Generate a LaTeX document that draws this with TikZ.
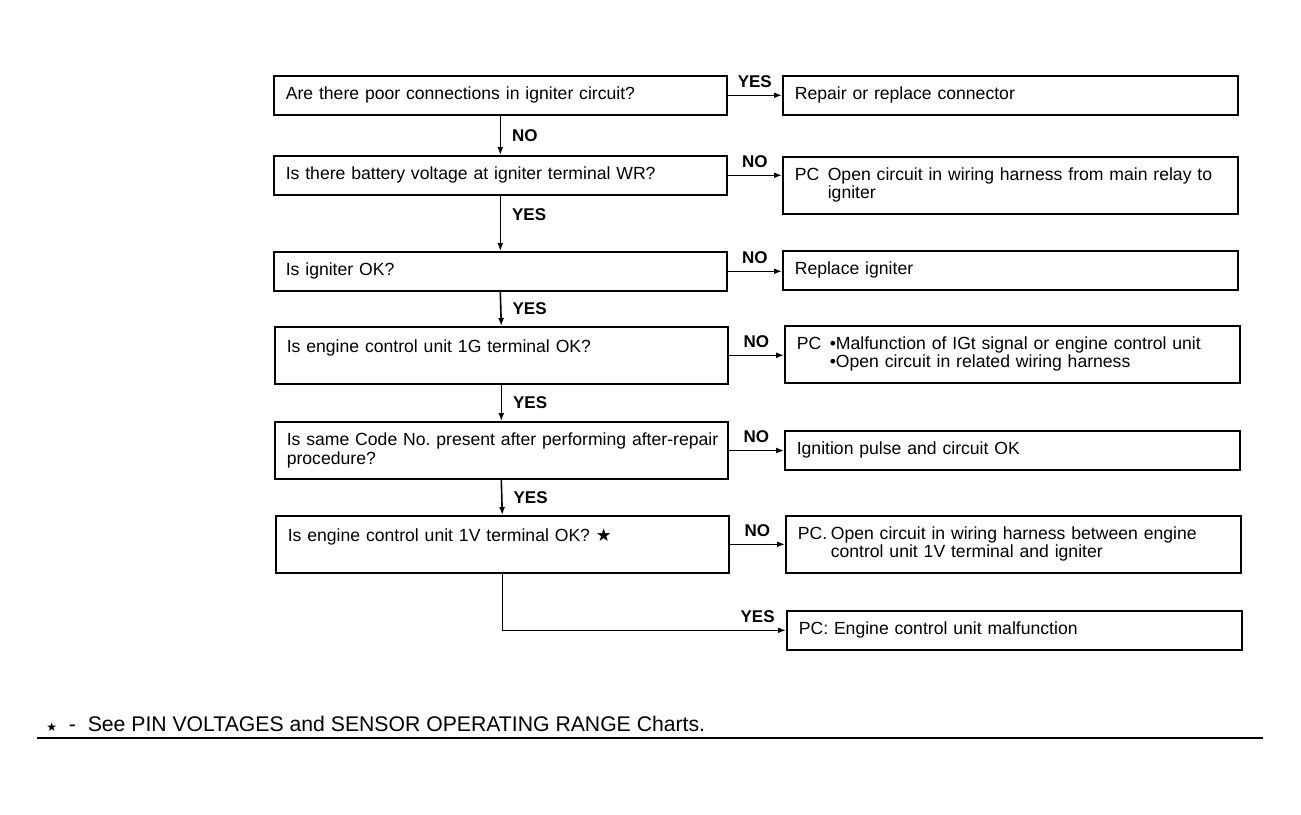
\documentclass[tikz,border=0pt]{standalone}
\usepackage{fontspec}
\setmainfont{Liberation Sans}
\newfontfamily\starfont{DejaVu Sans}
\usetikzlibrary{arrows.meta}
\newcommand{\boxfont}{\fontsize{8.8}{9.5}\selectfont\frenchspacing\hyphenpenalty=10000\exhyphenpenalty=10000\renewcommand{\arraystretch}{0.85}}

\begin{document}
\begin{tikzpicture}[x=0.5pt,y=-0.5pt,
  qbox/.style={draw,line width=0.8pt,anchor=north west,inner xsep=6pt,inner ysep=5.5pt,
    text width=214.5pt,align=left,minimum height=19.5pt,font=\boxfont},
  abox/.style={qbox,text width=215.5pt},
  tall/.style={minimum height=28.5pt},
  lbl/.style={font=\fontsize{8.5}{9}\selectfont\bfseries,inner sep=0pt},
  link/.style={line width=0.8pt,-{Latex[length=4pt,width=3pt]}}]
  \useasboundingbox (0,0) rectangle (1301,814);

  % questions
  \node[qbox] (q1) at (273,75) {Are there poor connections in igniter circuit?};
  \node[qbox] (q2) at (273,155) {Is there battery voltage at igniter terminal WR?};
  \node[qbox] (q3) at (273,251) {Is igniter OK?};
  \node[qbox,tall] (q4) at (274,326) {Is engine control unit 1G terminal OK?\\ \mbox{}};
  \node[qbox,tall] (q5) at (274,421) {\mbox{Is same Code No. present after performing after-repair}\\ procedure?};
  \node[qbox,tall] (q6) at (275,515) {Is engine control unit 1V terminal OK? {\starfont ★}\\ \mbox{}};

  % results
  \node[abox] (r1) at (782,75) {Repair or replace connector};
  \node[abox,tall] (r2) at (782,156) {\begin{tabular}{@{}p{16.5pt}@{}l@{}}PC & Open circuit in wiring harness from main relay to\\ & igniter\end{tabular}};
  \node[abox] (r3) at (782,250) {Replace igniter};
  \node[abox,tall] (r4) at (784,325) {\begin{tabular}{@{}p{16.5pt}@{}l@{}}PC & •Malfunction of IGt signal or engine control unit\\ & •Open circuit in related wiring harness\end{tabular}};
  \node[abox] (r5) at (784,430) {Ignition pulse and circuit OK};
  \node[abox,tall] (r6) at (785,515) {\begin{tabular}{@{}p{16.5pt}@{}l@{}}PC. & Open circuit in wiring harness between engine\\ & control unit 1V terminal and igniter\end{tabular}};
  \node[abox] (r7) at (786,610) {PC: Engine control unit malfunction};

  % down the left column
  \draw[link] (q1.south) -- node[lbl,midway,right=5.5pt] {NO} (q2.north);
  \draw[link] (q2.south) -- node[lbl,pos=0.34,right=5.5pt] {YES} (q3.north);
  \draw[link] (q3.south) -- node[lbl,midway,right=5.5pt] {YES} (q4.north);
  \draw[link] (q4.south) -- node[lbl,midway,right=5.5pt] {YES} (q5.north);
  \draw[link] (q5.south) -- node[lbl,midway,right=5.5pt] {YES} (q6.north);

  % across to the results
  \draw[link] (q1.east) -- node[lbl,midway,above=3.5pt] {YES} (q1.east -| r1.west);
  \draw[link] (q2.east) -- node[lbl,midway,above=3.5pt] {NO} (q2.east -| r2.west);
  \draw[link] (q3.east) -- node[lbl,midway,above=3.5pt] {NO} (q3.east -| r3.west);
  \draw[link] (q4.east) -- node[lbl,midway,above=3.5pt] {NO} (q4.east -| r4.west);
  \draw[link] (q5.east) -- node[lbl,midway,above=3.5pt] {NO} (q5.east -| r5.west);
  \draw[link] (q6.east) -- node[lbl,midway,above=3.5pt] {NO} (q6.east -| r6.west);
  \draw[link] (q6.south) |- node[lbl,pos=0.95,above=3.5pt] {YES} (r7.west);

  % footnote
  \node[anchor=base west,inner sep=0pt,font=\fontsize{10.6}{12}\selectfont] (note) at (46,731)
    {{\starfont\fontsize{6}{6}\selectfont ★}\ \ -\ \ See PIN VOLTAGES and SENSOR OPERATING RANGE Charts.};
  \draw[line width=0.6pt] (37,738) -- (1263,738);
\end{tikzpicture}
\end{document}
